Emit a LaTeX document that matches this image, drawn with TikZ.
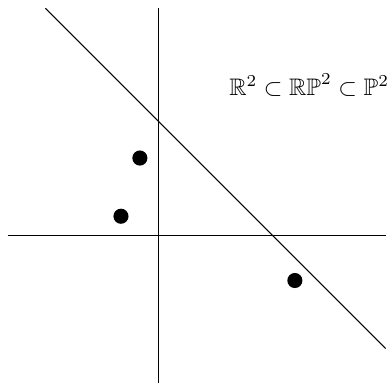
\documentclass[tikz,border=0pt]{standalone}
\usepackage{amsmath,amssymb}
\begin{document}
\begin{tikzpicture}[
  dot/.style={circle,fill=black,inner sep=0pt,minimum size=0.2cm},
  axis/.style={line width=0.4pt,black},
  ln/.style={line width=0.4pt,black}]
\useasboundingbox (-2.1,-1.97) rectangle (3.045,3.11);
\coordinate (xl) at (-2,0);
\coordinate (xr) at (3,0);
\coordinate (yb) at (0,-1.95);
\coordinate (yt) at (0,3);
\coordinate (la) at (-1.5,3);
\coordinate (lb) at (3,-1.5);
\draw[axis] (xl) -- (xr);
\draw[axis] (yb) -- (yt);
\draw[ln] (la) -- (lb);
\node[dot] (p1) at (-0.25,1.02) {};
\node[dot] (p2) at (-0.5,0.25) {};
\node[dot] (p3) at (1.8,-0.6) {};
\node[inner sep=0pt,anchor=base west,scale=0.9] (t) at (0.926,1.85) {$\mathbb{R}^2\subset\mathbb{RP}^2\subset\mathbb{P}^2$};
\end{tikzpicture}
\end{document}
